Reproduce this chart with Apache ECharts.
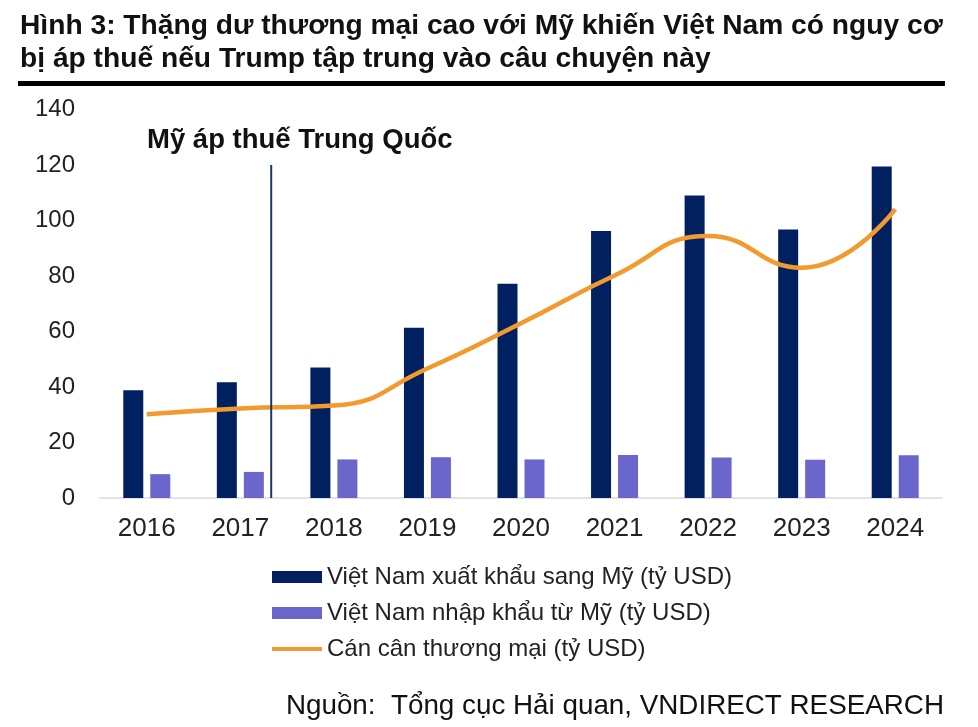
<!DOCTYPE html>
<html>
<head>
<meta charset="utf-8">
<script src="https://cdn.jsdelivr.net/npm/echarts@6/dist/echarts.min.js"></script>
<style>
html,body{margin:0;padding:0;background:#fff;}
#chart{width:978px;height:727px;}
</style>
</head>
<body>
<div id="chart"></div>
<script>
const years = ['2016','2017','2018','2019','2020','2021','2022','2023','2024'];
const exportsUS = [38.8, 41.7, 47.0, 61.4, 77.2, 96.2, 109.0, 96.8, 119.5];
const importsUS = [8.6, 9.4, 13.9, 14.7, 13.9, 15.5, 14.6, 13.8, 15.4];
const balance = [30.2, 32.3, 33.3, 46.7, 63.0, 80.2, 94.4, 83.0, 104.1];
const tariffMarker = [[1.33, 0], [1.33, 120]];
const yTicks = {min: 0, max: 140, interval: 20};

const names = ['Việt Nam xuất khẩu sang Mỹ (tỷ USD)', 'Việt Nam nhập khẩu từ Mỹ (tỷ USD)', 'Cán cân thương mại (tỷ USD)'];
const FONT = '"Liberation Sans", Arial, sans-serif';

const chart = echarts.init(document.getElementById('chart'), null, {renderer: 'canvas'});
chart.setOption({
  animation: false,
  backgroundColor: '#ffffff',
  textStyle: {fontFamily: FONT},
  grid: {left: 100, right: 36, top: 109.6, bottom: 229, containLabel: false},
  xAxis: [{
    type: 'category',
    data: years,
    axisLine: {show: true, lineStyle: {color: '#d9d9d9', width: 1.5}},
    axisTick: {show: false},
    axisLabel: {fontSize: 26, color: '#222', margin: 18, fontFamily: FONT}
  }, {
    type: 'value', min: -0.5, max: 8.5, show: false
  }],
  yAxis: {
    type: 'value',
    min: yTicks.min, max: yTicks.max, interval: yTicks.interval,
    axisLine: {show: false},
    axisTick: {show: false},
    splitLine: {show: false},
    axisLabel: {fontSize: 24, color: '#222', margin: 25, fontFamily: FONT}
  },
  legend: {
    orient: 'vertical',
    left: 272, top: 565, padding: 0,
    itemWidth: 50, itemHeight: 12,
    itemGap: 12,
    textStyle: {fontSize: 24, color: '#222', fontFamily: FONT},
    data: [
      {name: names[0], icon: 'rect'},
      {name: names[1], icon: 'rect'},
      {name: names[2], icon: 'path://M0 0H50V4H0Z'}
    ]
  },
  series: [
    {name: names[0], type: 'bar', data: exportsUS, barWidth: 20, barGap: '35%',
     itemStyle: {color: '#002060'}},
    {name: names[1], type: 'bar', data: importsUS, barWidth: 20,
     itemStyle: {color: '#6b66cc'}},
    {name: names[2], type: 'line', data: balance, smooth: 0.5, symbol: 'none',
     lineStyle: {color: '#f39a2e', width: 4.5}, itemStyle: {color: '#f39a2e'}, z: 5},
    {name: 'marker', type: 'line', xAxisIndex: 1, data: tariffMarker, symbol: 'none',
     lineStyle: {color: '#1f3864', width: 2}, z: 6, silent: true}
  ],
  graphic: [
    {type: 'text', left: 20, top: 10,
     style: {text: 'Hình 3: Thặng dư thương mại cao với Mỹ khiến Việt Nam có nguy cơ\nbị áp thuế nếu Trump tập trung vào câu chuyện này',
       font: 'bold 28.2px ' + FONT, fill: '#111', lineHeight: 33}},
    {type: 'rect', shape: {x: 18, y: 81, width: 927, height: 5}, style: {fill: '#000'}},
    {type: 'text', left: 147, top: 126,
     style: {text: 'Mỹ áp thuế Trung Quốc', font: 'bold 27.5px ' + FONT, fill: '#111'}},
    {type: 'text', right: 34, top: 692,
     style: {text: 'Nguồn:  Tổng cục Hải quan, VNDIRECT RESEARCH', font: '27.8px ' + FONT, fill: '#111'}}
  ]
});
</script>
</body>
</html>
